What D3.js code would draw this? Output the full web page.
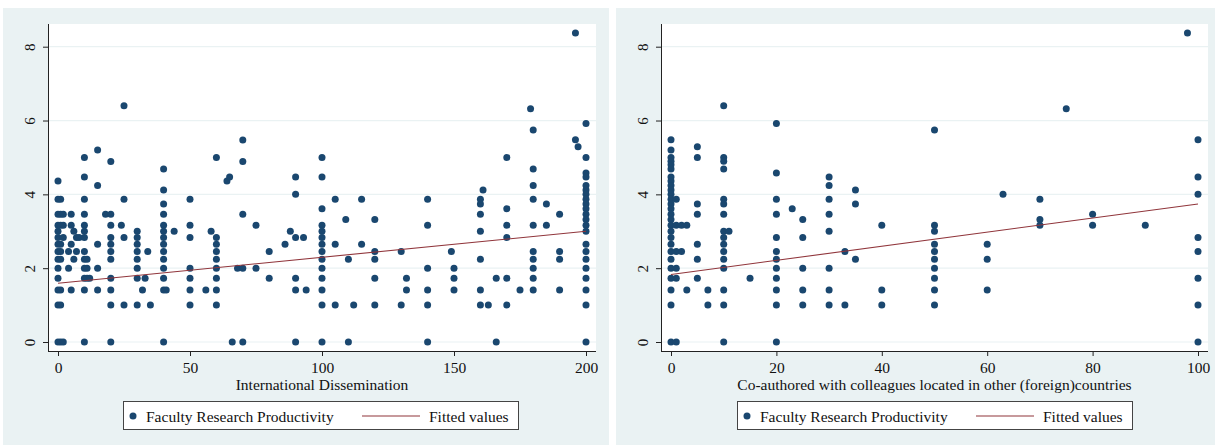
<!DOCTYPE html>
<html>
<head>
<meta charset="utf-8">
<script src="https://cdn.jsdelivr.net/npm/d3@7"></script>
<style>
    body { margin: 0; background: white; }
    text { font-family: "Liberation Serif", "Times New Roman", serif; fill: #111; }
</style>
</head>
<body>
<svg id="chart" width="1215" height="445"></svg>
<script>

    // scatter data: [x, [y values at that x]]
    var disseminationPts = [
        [0, [4.36,3.87,3.46,3.16,3.0,2.83,2.65,2.45,2.24,2.0,1.73,1.41,1.0,0]],
        [1, [3.87,3.46,3.16,2.65,2.45,2.24,1.41,1.0,0]],
        [2, [3.46,3.16,2.83,0]],
        [4, [2.45,2.0]],
        [5, [3.46,3.16,2.65,1.41]],
        [6, [3.0,2.24]],
        [7, [2.83,2.45]],
        [8, [2.83]],
        [10, [5.0,4.47,3.87,3.46,3.16,3.0,2.83,2.45,2.24,2.0,1.73,1.41,0]],
        [11, [2.24,2.0,1.73]],
        [12, [1.73]],
        [15, [5.2,4.24,2.65,2.0,1.41]],
        [18, [3.46]],
        [20, [4.89,3.46,3.16,2.83,2.65,2.45,2.24,1.73,1.41,1.0,0]],
        [24, [3.16]],
        [25, [6.4,3.87,2.83,1.0]],
        [30, [3.0,2.83,2.65,2.45,2.24,2.0,1.73,1.0]],
        [32, [1.41]],
        [33, [1.73]],
        [34, [2.45]],
        [35, [1.0]],
        [40, [4.69,4.12,3.74,3.46,3.16,3.0,2.83,2.65,2.45,2.24,2.0,1.73,1.41,0]],
        [41, [1.41]],
        [44, [3.0]],
        [50, [3.87,3.16,2.83,2.0,1.73,1.41,1.0]],
        [56, [1.41]],
        [58, [3.0]],
        [60, [5.0,2.83,2.65,2.45,2.24,2.0,1.73,1.41,1.0]],
        [64, [4.36]],
        [65, [4.47]],
        [66, [0]],
        [68, [2.0]],
        [70, [5.47,4.89,3.46,2.0,0]],
        [75, [3.16,2.0]],
        [80, [2.45,1.73]],
        [86, [2.65]],
        [88, [3.0]],
        [90, [4.47,4.0,2.83,1.73,1.41,0]],
        [93, [2.83]],
        [94, [1.41]],
        [100, [5.0,4.47,3.61,3.16,3.0,2.83,2.65,2.45,2.24,2.0,1.73,1.41,1.0,0]],
        [105, [3.87,2.65,1.0]],
        [109, [3.32]],
        [110, [2.24,0]],
        [112, [1.0]],
        [115, [3.87,2.65]],
        [120, [3.32,2.45,2.24,1.73,1.0]],
        [130, [2.45,1.0]],
        [132, [1.73,1.41]],
        [140, [3.87,3.16,2.0,1.41,1.0,0]],
        [149, [2.45]],
        [150, [2.0,1.73,1.41]],
        [160, [3.87,3.74,3.46,3.0,2.24,1.41,1.0]],
        [161, [4.12]],
        [163, [1.0]],
        [166, [1.73,0]],
        [170, [5.0,3.61,3.16,2.83,1.73,1.0]],
        [175, [1.41]],
        [179, [6.32]],
        [180, [5.74,4.69,4.24,3.87,3.16,2.45,2.24,2.0,1.73,1.41]],
        [185, [3.74,3.16]],
        [190, [3.46,2.45,2.24,1.41]],
        [196, [8.37,5.48]],
        [197, [5.29]],
        [200, [5.92,5.0,4.58,4.47,4.24,4.12,4.0,3.87,3.74,3.61,3.46,3.32,3.16,3.0,2.65,2.45,2.24,2.0,1.73,1.41,1.0,0]]
    ]

    var coauthoredPts = [
        [0, [5.48,5.2,5.0,4.9,4.8,4.69,4.47,4.36,4.24,4.12,4.0,3.87,3.74,3.61,3.46,3.32,3.16,3.0,2.83,2.65,2.45,2.24,2.0,1.73,1.41,1.0,0]],
        [1, [3.87,3.16,2.45,2.0,1.73,0]],
        [2, [3.16,2.45]],
        [3, [3.16,1.41]],
        [5, [5.29,5.0,3.74,3.46,2.65,2.24,1.73]],
        [7, [1.41,1.0]],
        [10, [6.4,5.0,4.9,4.69,3.87,3.74,3.46,3.0,2.83,2.65,2.45,2.24,2.0,1.41,1.0,0]],
        [11, [3.0]],
        [15, [1.73]],
        [20, [5.92,4.58,3.87,3.46,2.83,2.45,2.24,2.0,1.73,1.41,1.0,0]],
        [23, [3.61]],
        [25, [3.32,2.83,2.0,1.41,1.0]],
        [30, [4.47,4.24,3.87,3.46,3.0,2.0,1.41,1.0]],
        [33, [2.45,1.0]],
        [35, [4.12,3.74,2.24]],
        [40, [3.16,1.41,1.0]],
        [50, [5.74,3.16,3.0,2.65,2.45,2.24,2.0,1.73,1.41,1.0]],
        [60, [2.65,2.24,1.41]],
        [63, [4.0]],
        [70, [3.87,3.32,3.16]],
        [75, [6.32]],
        [80, [3.46,3.16]],
        [90, [3.16]],
        [98, [8.37]],
        [100, [5.48,4.47,4.0,2.83,2.45,1.73,1.0,0]]
    ]

    // fitted line endpoints
    var disseminationFit = [[0, 1.59], [200, 3.0]]
    var coauthoredFit = [[0, 1.83], [100, 3.74]]

    var yTicks = [0, 2, 4, 6, 8]
    var disseminationTicks = [0, 50, 100, 150, 200]
    var coauthoredTicks = [0, 20, 40, 60, 80, 100]

    var xTitles = ["International Dissemination", "Co-authored with colleagues located in other (foreign)countries"]
    var legendLabels = ["Faculty Research Productivity", "Fitted values"]

    var navy = "#1a476f", maroon = "#90353b", bgCol = "#eaf2f3"
    var svg = d3.select("#chart")

    function drawPanel(p) {
        var g = svg.append("g")

        g.append("rect")
            .attr("x", p.bx).attr("y", 8)
            .attr("width", p.bw).attr("height", 437)
            .attr("fill", bgCol)

        g.append("rect")
            .attr("x", p.left).attr("y", 24)
            .attr("width", p.right - p.left).attr("height", 351 - 24)
            .attr("fill", "white")

        var x = d3.scaleLinear().domain(p.xDom).range([p.x0, p.x1])
        var y = d3.scaleLinear().domain([0, 8]).range([342, 46.7])

        // grid
        g.selectAll(".grid").data(yTicks).enter().append("line")
            .attr("x1", p.left).attr("x2", p.right)
            .attr("y1", d => y(d)).attr("y2", d => y(d))
            .attr("stroke", bgCol).attr("stroke-width", 1.2)

        // y axis, labels turned vertical like stata
        var ya = g.append("g").attr("transform", "translate(" + p.left + ",0)")
            .call(d3.axisLeft(y).tickValues(yTicks).tickSize(5).tickPadding(8))
        ya.select(".domain").attr("d", "M0.5,351V24").attr("stroke", "#222")
        ya.selectAll(".tick line").attr("stroke", "#222")
        ya.selectAll(".tick text")
            .attr("x", -13).attr("y", 0).attr("dy", null)
            .attr("transform", "rotate(-90,-13,0)")
            .attr("text-anchor", "middle")
            .attr("fill", "#111")
            .style("font-size", "15px")
            .style("font-family", "Liberation Serif")

        // x axis
        var xa = g.append("g").attr("transform", "translate(0,351)")
            .call(d3.axisBottom(x).tickValues(p.ticks).tickSize(5).tickPadding(6))
        xa.select(".domain").attr("d", "M" + p.left + ",0.5H" + p.right).attr("stroke", "#222")
        xa.selectAll(".tick line").attr("stroke", "#222")
        xa.selectAll(".tick text")
            .attr("fill", "#111")
            .style("font-size", "15.5px")
            .style("font-family", "Liberation Serif")

        g.append("text")
            .attr("x", (p.left + p.right) / 2).attr("y", 390)
            .attr("text-anchor", "middle")
            .style("font-size", "15.5px")
            .text(p.title)

        // points
        var pts = []
        p.data.forEach(function(c) {
            c[1].forEach(function(v) { pts.push([c[0], v]) })
        })
        g.selectAll(".pt").data(pts).enter().append("circle")
            .attr("cx", d => x(d[0])).attr("cy", d => y(d[1]))
            .attr("r", 3.5)
            .attr("fill", navy)

        g.append("path")
            .datum(p.fit)
            .attr("d", d3.line().x(d => x(d[0])).y(d => y(d[1])))
            .attr("fill", "none").attr("stroke", maroon).attr("stroke-width", 1.1)

        // legend
        var lx = p.legX
        g.append("rect")
            .attr("x", lx + 0.5).attr("y", 401.5)
            .attr("width", 395).attr("height", 28)
            .attr("fill", "white").attr("stroke", "#444")
        g.append("circle").attr("cx", lx + 10).attr("cy", 416).attr("r", 3.5).attr("fill", navy)
        g.append("text").attr("x", lx + 23).attr("y", 421.5).style("font-size", "15.5px").text(legendLabels[0])
        g.append("line")
            .attr("x1", lx + 239).attr("x2", lx + 297)
            .attr("y1", 416).attr("y2", 416)
            .attr("stroke", maroon).attr("stroke-width", 1.1)
        g.append("text").attr("x", lx + 306).attr("y", 421.5).style("font-size", "15.5px").text(legendLabels[1])
    }

    drawPanel({
        bx: 3, bw: 606, left: 48, right: 596,
        xDom: [0, 200], x0: 58, x1: 586,
        ticks: disseminationTicks, data: disseminationPts, fit: disseminationFit,
        title: xTitles[0], legX: 123
    })

    drawPanel({
        bx: 616, bw: 599, left: 661, right: 1208,
        xDom: [0, 100], x0: 671, x1: 1198,
        ticks: coauthoredTicks, data: coauthoredPts, fit: coauthoredFit,
        title: xTitles[1], legX: 737
    })

</script>
</body>
</html>
